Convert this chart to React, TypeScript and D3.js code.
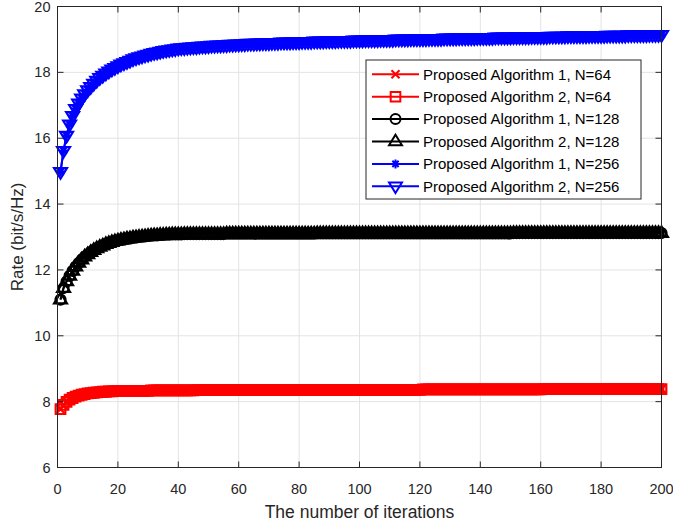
import React from "react";
import * as d3 from "d3";

const iterations: number[] = Array.from({ length: 200 }, (_, i) => i + 1);

const rateN64: number[] = [
  7.77,7.90,7.99,8.06,8.11,8.15,8.18,8.21,8.23,8.25,8.26,8.27,8.28,8.29,8.30,8.30,8.31,8.31,8.32,8.32,
  8.32,8.32,8.32,8.33,8.33,8.33,8.33,8.33,8.33,8.33,8.34,8.34,8.34,8.34,8.34,8.34,8.34,8.34,8.34,8.34,
  8.34,8.34,8.34,8.34,8.34,8.35,8.35,8.35,8.35,8.35,8.35,8.35,8.35,8.35,8.35,8.35,8.35,8.35,8.35,8.35,
  8.36,8.36,8.36,8.36,8.36,8.36,8.36,8.36,8.36,8.36,8.36,8.36,8.36,8.36,8.36,8.36,8.36,8.36,8.36,8.36,
  8.36,8.36,8.36,8.36,8.36,8.36,8.36,8.36,8.36,8.36,8.36,8.36,8.36,8.36,8.36,8.36,8.36,8.36,8.36,8.36,
  8.36,8.36,8.36,8.36,8.36,8.36,8.36,8.36,8.36,8.36,8.36,8.36,8.36,8.36,8.36,8.36,8.36,8.36,8.36,8.36,
  8.37,8.37,8.37,8.37,8.37,8.37,8.37,8.37,8.37,8.37,8.37,8.37,8.37,8.37,8.37,8.37,8.37,8.37,8.37,8.37,
  8.37,8.37,8.37,8.37,8.37,8.37,8.37,8.37,8.37,8.37,8.37,8.37,8.37,8.37,8.37,8.37,8.37,8.37,8.37,8.37,
  8.38,8.38,8.38,8.38,8.38,8.38,8.38,8.38,8.38,8.38,8.38,8.38,8.38,8.38,8.38,8.38,8.38,8.38,8.38,8.38,
  8.38,8.38,8.38,8.38,8.38,8.38,8.38,8.38,8.38,8.38,8.38,8.38,8.38,8.38,8.38,8.38,8.38,8.38,8.38,8.38,
];

const rateN128: number[] = [
  11.10,11.45,11.65,11.82,11.97,12.10,12.21,12.31,12.40,12.47,12.54,12.60,12.65,12.70,12.74,12.78,12.81,12.84,12.87,12.89,
  12.91,12.93,12.95,12.96,12.98,12.99,13.00,13.01,13.02,13.03,13.04,13.05,13.05,13.06,13.06,13.07,13.07,13.08,13.08,13.08,
  13.08,13.09,13.09,13.09,13.09,13.09,13.09,13.09,13.09,13.09,13.09,13.09,13.09,13.09,13.09,13.10,13.10,13.10,13.10,13.10,
  13.10,13.10,13.10,13.10,13.10,13.10,13.10,13.10,13.10,13.10,13.10,13.10,13.10,13.10,13.10,13.10,13.10,13.10,13.10,13.10,
  13.10,13.10,13.10,13.10,13.10,13.11,13.11,13.11,13.11,13.11,13.11,13.11,13.11,13.11,13.11,13.11,13.11,13.11,13.11,13.11,
  13.11,13.11,13.11,13.11,13.11,13.11,13.11,13.11,13.11,13.11,13.11,13.11,13.11,13.11,13.11,13.11,13.11,13.11,13.11,13.11,
  13.11,13.11,13.11,13.11,13.11,13.11,13.11,13.11,13.11,13.11,13.11,13.11,13.11,13.11,13.11,13.11,13.11,13.11,13.11,13.11,
  13.11,13.11,13.11,13.11,13.11,13.11,13.11,13.11,13.11,13.11,13.12,13.12,13.12,13.12,13.12,13.12,13.12,13.12,13.12,13.12,
  13.12,13.12,13.12,13.12,13.12,13.12,13.12,13.12,13.12,13.12,13.12,13.12,13.12,13.12,13.12,13.12,13.12,13.12,13.12,13.12,
  13.12,13.12,13.12,13.12,13.12,13.12,13.12,13.12,13.12,13.12,13.12,13.12,13.12,13.12,13.12,13.12,13.12,13.12,13.12,13.12,
];

const rateN256: number[] = [
  14.98,15.62,16.08,16.42,16.68,16.89,17.06,17.21,17.34,17.46,17.56,17.66,17.75,17.83,17.90,17.97,18.03,18.09,18.14,18.19,
  18.24,18.28,18.32,18.36,18.40,18.43,18.46,18.49,18.52,18.54,18.57,18.59,18.61,18.63,18.65,18.67,18.68,18.70,18.71,18.73,
  18.74,18.74,18.75,18.76,18.77,18.77,18.78,18.79,18.79,18.80,18.81,18.81,18.82,18.82,18.83,18.83,18.84,18.84,18.85,18.85,
  18.86,18.86,18.87,18.87,18.87,18.88,18.88,18.89,18.89,18.89,18.90,18.90,18.90,18.91,18.91,18.91,18.91,18.92,18.92,18.92,
  18.93,18.93,18.93,18.93,18.94,18.94,18.94,18.94,18.95,18.95,18.95,18.95,18.96,18.96,18.96,18.96,18.96,18.97,18.97,18.97,
  18.97,18.98,18.98,18.98,18.98,18.98,18.99,18.99,18.99,18.99,18.99,19.00,19.00,19.00,19.00,19.00,19.01,19.01,19.01,19.01,
  19.01,19.01,19.02,19.02,19.02,19.02,19.02,19.03,19.03,19.03,19.03,19.03,19.04,19.04,19.04,19.04,19.04,19.04,19.05,19.05,
  19.05,19.05,19.05,19.05,19.06,19.06,19.06,19.06,19.06,19.06,19.07,19.07,19.07,19.07,19.07,19.07,19.08,19.08,19.08,19.08,
  19.08,19.08,19.09,19.09,19.09,19.09,19.09,19.09,19.10,19.10,19.10,19.10,19.10,19.10,19.10,19.11,19.11,19.11,19.11,19.11,
  19.11,19.12,19.12,19.12,19.12,19.12,19.12,19.12,19.13,19.13,19.13,19.13,19.13,19.13,19.13,19.14,19.14,19.14,19.14,19.14,
];

const xTicks: number[] = [0, 20, 40, 60, 80, 100, 120, 140, 160, 180, 200];
const yTicks: number[] = [6, 8, 10, 12, 14, 16, 18, 20];

const seriesNames: string[] = [
  "Proposed Algorithm 1, N=64",
  "Proposed Algorithm 2, N=64",
  "Proposed Algorithm 1, N=128",
  "Proposed Algorithm 2, N=128",
  "Proposed Algorithm 1, N=256",
  "Proposed Algorithm 2, N=256",
];
const seriesColors: string[] = ["#ff0000", "#ff0000", "#000000", "#000000", "#0000ff", "#0000ff"];
const seriesMarkers: string[] = ["x", "square", "circle", "triangleUp", "asterisk", "triangleDown"];
const seriesData: number[][] = [rateN64, rateN64, rateN128, rateN128, rateN256, rateN256];

const W = 673;
const H = 525;
const left = 57.5;
const right = 661.5;
const top = 6.5;
const bottom = 467.5;
const FONT = "'Liberation Sans', Arial, Helvetica, sans-serif";
const AX = "#262626";

function markerPath(kind: string): string {
  switch (kind) {
    case "x": {
      const r = 4;
      return `M${-r},${-r}L${r},${r}M${-r},${r}L${r},${-r}`;
    }
    case "square": {
      const r = 4.8;
      return `M${-r},${-r}H${r}V${r}H${-r}Z`;
    }
    case "circle": {
      const r = 5;
      return `M${r},0A${r},${r},0,1,1,${-r},0A${r},${r},0,1,1,${r},0Z`;
    }
    case "triangleUp": {
      const r = 6.8;
      return `M0,${-r}L${r * 0.95},${r * 0.55}L${-r * 0.95},${r * 0.55}Z`;
    }
    case "triangleDown": {
      const r = 6.8;
      return `M0,${r}L${r * 0.95},${-r * 0.55}L${-r * 0.95},${-r * 0.55}Z`;
    }
    case "asterisk": {
      const r = 4.5;
      const d = r * 0.7;
      return `M${-r},0H${r}M0,${-r}V${r}M${-d},${-d}L${d},${d}M${-d},${d}L${d},${-d}`;
    }
  }
  return "";
}

export default function App() {
  const x = d3.scaleLinear().domain([0, 200]).range([left, right]);
  const y = d3.scaleLinear().domain([6, 20]).range([bottom, top]);
  const line = d3
    .line<number>()
    .x((_, i) => x(iterations[i]))
    .y((d) => y(d));

  const legX = 366;
  const legY = 60;
  const legW = 275;
  const legH = 139;
  const rowH = 22.4;

  return (
    <svg
      width={W}
      height={H}
      style={{ position: "absolute", left: 0, top: 0, background: "#fff" }}
      fontFamily={FONT}
    >
      <rect x={0} y={0} width={W} height={H} fill="#fff" />
      {xTicks.map((t) => (
        <line key={"gx" + t} x1={x(t)} x2={x(t)} y1={top} y2={bottom} stroke="#e3e3e3" strokeWidth={1} />
      ))}
      {yTicks.map((t) => (
        <line key={"gy" + t} x1={left} x2={right} y1={y(t)} y2={y(t)} stroke="#e3e3e3" strokeWidth={1} />
      ))}

      {seriesData.map((data, si) => (
        <g key={"s" + si}>
          <path d={line(data) || ""} fill="none" stroke={seriesColors[si]} strokeWidth={2} />
          {data.map((v, i) => (
            <path
              key={i}
              d={markerPath(seriesMarkers[si])}
              transform={`translate(${x(iterations[i])},${y(v)})`}
              fill="none"
              stroke={seriesColors[si]}
              strokeWidth={2.2}
            />
          ))}
        </g>
      ))}

      <rect x={left} y={top} width={right - left} height={bottom - top} fill="none" stroke={AX} strokeWidth={1} />
      {xTicks.map((t) => (
        <g key={"tx" + t}>
          <line x1={x(t)} x2={x(t)} y1={bottom} y2={bottom - 6} stroke={AX} />
          <line x1={x(t)} x2={x(t)} y1={top} y2={top + 6} stroke={AX} />
          <text x={x(t)} y={494} fontSize={14.5} textAnchor="middle" fill={AX}>
            {t}
          </text>
        </g>
      ))}
      {yTicks.map((t) => (
        <g key={"ty" + t}>
          <line x1={left} x2={left + 6} y1={y(t)} y2={y(t)} stroke={AX} />
          <line x1={right} x2={right - 6} y1={y(t)} y2={y(t)} stroke={AX} />
          <text x={left - 7} y={y(t) + 5} fontSize={14.5} textAnchor="end" fill={AX}>
            {t}
          </text>
        </g>
      ))}

      <text x={(left + right) / 2} y={518} fontSize={17.5} textAnchor="middle" fill={AX}>
        The number of iterations
      </text>
      <text
        transform={`translate(23,${(top + bottom) / 2}) rotate(-90)`}
        fontSize={17}
        textAnchor="middle"
        fill={AX}
      >
        Rate (bit/s/Hz)
      </text>

      <rect x={legX} y={legY} width={legW} height={legH} fill="#fff" stroke={AX} strokeWidth={1} />
      {seriesNames.map((name, i) => {
        const cy = legY + 14.3 + i * rowH;
        return (
          <g key={"l" + i}>
            <line x1={372} x2={419} y1={cy} y2={cy} stroke={seriesColors[i]} strokeWidth={2} />
            <path
              d={markerPath(seriesMarkers[i])}
              transform={`translate(395.5,${cy})`}
              fill="none"
              stroke={seriesColors[i]}
              strokeWidth={2}
            />
            <text x={423} y={cy + 5.3} fontSize={15} fill="#000">
              {name}
            </text>
          </g>
        );
      })}
    </svg>
  );
}
